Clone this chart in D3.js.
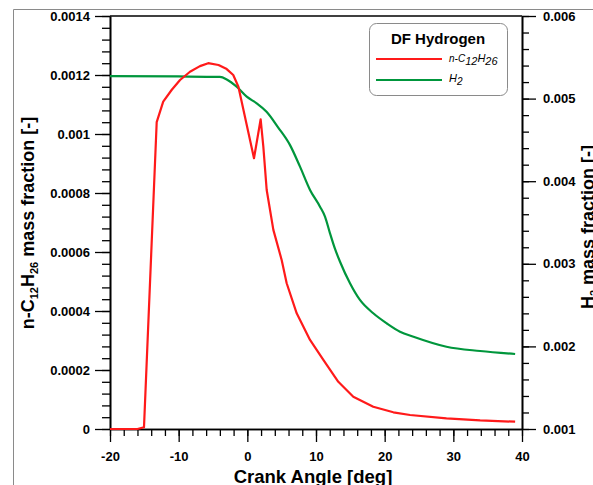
<!DOCTYPE html>
<html>
<head>
<meta charset="utf-8">
<script src="https://cdn.jsdelivr.net/npm/d3@7"></script>
<style>
  body { margin: 0; background: #fff; }
  svg { display: block; font-family: "Liberation Sans", Arial, sans-serif; }
</style>
</head>
<body>
<svg id="chart" width="593" height="485"></svg>
<script>
// n-C12H26 mass fraction (left axis)
var dodecaneAngle = [-20, -16, -15.05, -13.2, -12.25, -11.0, -9.8, -8.35, -6.9, -5.7, -4.2, -3.0, -2.05, -1.3,
  0.97, 1.94, 2.33, 2.82, 3.79, 5.0, 5.73, 7.19, 9.13, 11.07, 13.25, 15.43, 18.34, 21.26, 23.7, 29, 33.9, 39];
var dodecaneFrac = [0, 0, 0.000006, 0.00104, 0.00111, 0.00115, 0.001183, 0.001211, 0.00123, 0.00124, 0.001234, 0.00122, 0.0012, 0.00116,
  0.000918, 0.00105, 0.000957, 0.00081, 0.000675, 0.000573, 0.000494, 0.000392, 0.000302, 0.000234, 0.00016, 0.000109, 0.0000756, 0.0000566, 0.0000475, 0.000036, 0.000029, 0.0000247];

// H2 mass fraction (right axis)
var hydrogenAngle = [-20, -10, -4, -3, -1.55, -0.09, 1.36, 2.8, 4.5, 6.2, 7.67, 9.13, 10.58, 11.31, 12.04, 12.77,
  13.5, 14.95, 16.4, 18.34, 20.28, 22.23, 24.2, 29, 33.9, 39];
var hydrogenFrac = [0.005272, 0.005268, 0.005262, 0.005232, 0.005144, 0.005023, 0.004943, 0.004841, 0.00465, 0.00444, 0.004176, 0.003894, 0.003692, 0.003571, 0.003369, 0.00318,
  0.003025, 0.002764, 0.002562, 0.002401, 0.00228, 0.002178, 0.002117, 0.001996, 0.001944, 0.001908];

var xTicks = [-20, -10, 0, 10, 20, 30, 40];
var xLabels = ["-20", "-10", "0", "10", "20", "30", "40"];
var leftTicks = [0, 0.0002, 0.0004, 0.0006, 0.0008, 0.001, 0.0012, 0.0014];
var leftLabels = ["0", "0.0002", "0.0004", "0.0006", "0.0008", "0.001", "0.0012", "0.0014"];
var rightTicks = [0.001, 0.002, 0.003, 0.004, 0.005, 0.006];
var rightLabels = ["0.001", "0.002", "0.003", "0.004", "0.005", "0.006"];

var margin = {top: 16, right: 71, bottom: 56, left: 110};
var W = 593, H = 485;
var w = W - margin.left - margin.right,
    h = H - margin.top - margin.bottom;

var svg = d3.select("#chart");

// outer grey frame
svg.append("path")
  .attr("d", "M13.5," + H + "V9.5H" + W)
  .attr("fill", "none").attr("stroke", "#8a8a8a").attr("stroke-width", 1);

var g = svg.append("g").attr("transform", "translate(" + margin.left + "," + margin.top + ")");

var x = d3.scaleLinear().domain([-20, 40]).range([0, w]);
var yL = d3.scaleLinear().domain([0, 0.0014]).range([h, 0]);
var yR = d3.scaleLinear().domain([0.001, 0.006]).range([h, 0]);

// minor ticks
var xMinor = d3.range(-20, 40.01, 2);
var lMinor = d3.range(0, 36).map(function (i) { return i * 0.00004; });
var rMinor = d3.range(0, 26).map(function (i) { return 0.001 + i * 0.0002; });

function styleAxis(sel) {
  sel.select(".domain").attr("stroke", "#000").attr("stroke-width", 1.6);
  sel.selectAll(".tick line").attr("stroke", "#000").attr("stroke-width", 1.3);
  sel.selectAll(".tick text").attr("fill", "#000").attr("font-size", 13).attr("font-weight", "bold");
}

g.append("g").attr("transform", "translate(0," + h + ")")
  .call(d3.axisBottom(x).tickValues(xMinor).tickSize(7).tickSizeOuter(0).tickFormat(""))
  .call(styleAxis);
g.append("g").attr("transform", "translate(0," + h + ")")
  .call(d3.axisBottom(x).tickValues(xTicks).tickSize(13).tickSizeOuter(0).tickPadding(10)
    .tickFormat(function (d, i) { return xLabels[i]; }))
  .call(styleAxis);

g.append("g")
  .call(d3.axisLeft(yL).tickValues(lMinor).tickSize(8).tickSizeOuter(0).tickFormat(""))
  .call(styleAxis);
g.append("g")
  .call(d3.axisLeft(yL).tickValues(leftTicks).tickSize(15).tickSizeOuter(0).tickPadding(5)
    .tickFormat(function (d, i) { return leftLabels[i]; }))
  .call(styleAxis);

g.append("g").attr("transform", "translate(" + w + ",0)")
  .call(d3.axisRight(yR).tickValues(rMinor).tickSize(7).tickSizeOuter(0).tickFormat(""))
  .call(styleAxis);
g.append("g").attr("transform", "translate(" + w + ",0)")
  .call(d3.axisRight(yR).tickValues(rightTicks).tickSize(14).tickSizeOuter(0).tickPadding(7)
    .tickFormat(function (d, i) { return rightLabels[i]; }))
  .call(styleAxis);

// top frame
g.append("line").attr("x1", 0).attr("x2", w).attr("y1", 0).attr("y2", 0)
  .attr("stroke", "#000").attr("stroke-width", 1.6);

// curves: red has sharp corners (linear), green is smooth
var redLine = d3.line()
  .x(function (d) { return x(d[0]); })
  .y(function (d) { return yL(d[1]); });
var greenLine = d3.line()
  .curve(d3.curveMonotoneX)
  .x(function (d) { return x(d[0]); })
  .y(function (d) { return yR(d[1]); });

g.append("path")
  .datum(hydrogenAngle.map(function (a, i) { return [a, hydrogenFrac[i]]; }))
  .attr("d", greenLine)
  .attr("fill", "none").attr("stroke", "#00963c").attr("stroke-width", 2.2)
  .attr("stroke-linejoin", "round");

g.append("path")
  .datum(dodecaneAngle.map(function (a, i) { return [a, dodecaneFrac[i]]; }))
  .attr("d", redLine)
  .attr("fill", "none").attr("stroke", "#ff1a1a").attr("stroke-width", 2.2)
  .attr("stroke-linejoin", "round");

// axis titles
svg.append("text")
  .attr("x", 313).attr("y", 483)
  .attr("text-anchor", "middle").attr("font-size", 18.5).attr("font-weight", "bold")
  .text("Crank Angle [deg]");

var lt = svg.append("text")
  .attr("transform", "translate(34,223) rotate(-90)")
  .attr("text-anchor", "middle").attr("font-size", 18).attr("font-weight", "bold");
lt.append("tspan").text("n-C");
lt.append("tspan").attr("font-size", 11).attr("dy", 4).text("12");
lt.append("tspan").attr("dy", -4).text("H");
lt.append("tspan").attr("font-size", 11).attr("dy", 4).text("26");
lt.append("tspan").attr("dy", -4).text(" mass fraction [-]");

var rt = svg.append("text")
  .attr("transform", "translate(594,227) rotate(-90)")
  .attr("text-anchor", "middle").attr("font-size", 18).attr("font-weight", "bold");
rt.append("tspan").text("H");
rt.append("tspan").attr("font-size", 11).attr("dy", 4).text("2");
rt.append("tspan").attr("dy", -4).text(" mass fraction [-]");

// legend
var lg = svg.append("g");
lg.append("rect")
  .attr("x", 369.5).attr("y", 23.5).attr("width", 138).attr("height", 72)
  .attr("rx", 7).attr("fill", "#fff").attr("stroke", "#8a8a8a").attr("stroke-width", 1);
lg.append("text")
  .attr("x", 438).attr("y", 44)
  .attr("text-anchor", "middle").attr("font-size", 15).attr("font-weight", "bold")
  .text("DF Hydrogen");
lg.append("line").attr("x1", 376).attr("x2", 442).attr("y1", 59).attr("y2", 59)
  .attr("stroke", "#ff1a1a").attr("stroke-width", 2);
lg.append("line").attr("x1", 376).attr("x2", 442).attr("y1", 80).attr("y2", 80)
  .attr("stroke", "#00963c").attr("stroke-width", 2);

var t1 = lg.append("text").attr("x", 449).attr("y", 62)
  .attr("font-size", 11).attr("font-style", "italic");
t1.append("tspan").attr("font-size", 10).text("n-C");
t1.append("tspan").attr("dy", 3).text("12");
t1.append("tspan").attr("dy", -3).text("H");
t1.append("tspan").attr("dy", 3).text("26");

var t2 = lg.append("text").attr("x", 449).attr("y", 82)
  .attr("font-size", 11).attr("font-style", "italic");
t2.append("tspan").text("H");
t2.append("tspan").attr("dy", 3).attr("font-size", 10).text("2");
</script>
</body>
</html>
